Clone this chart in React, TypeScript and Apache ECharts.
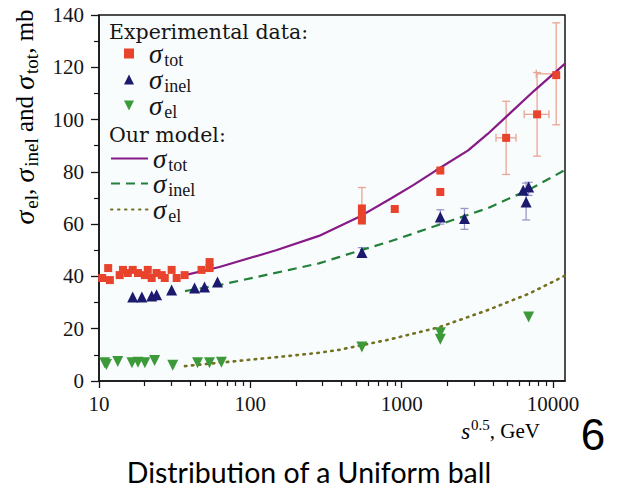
import React, { useEffect, useRef } from "react";
import * as echarts from "echarts";

// Experimental cross sections (sqrt(s) in GeV, sigma in mb)
const totExpX = [10.5, 11.5, 11.8, 13.7, 14.4, 15.5, 16.7, 18.1, 20.1, 21, 22.3, 24, 26, 27.2, 30.2, 32.6, 36.8, 47.6, 53.8, 53.8, 546, 546, 546, 900, 1800, 1800, 4900, 7850, 10500];
const totExpY = [39.4, 43.2, 38.6, 40.5, 42.5, 41.3, 42.5, 41.3, 40.5, 42.5, 39.4, 41.3, 40.5, 39.4, 42.5, 39.4, 40.5, 42.5, 43.2, 45.5, 66, 63.5, 61.5, 65.8, 80.5, 72.3, 93, 102, 117];

const totErrX = [546, 4900, 7850, 10500];
const totErrLow = [60, 79, 86, 98];
const totErrHigh = [74, 107, 118, 137];
const totErrXLow = [null, 4200, 6450, 7750];
const totErrXHigh = [null, 5700, 9400, 10900];

const inelExpX = [16.7, 19.2, 22.3, 24, 30.2, 42.8, 49.8, 60.7, 546, 1800, 2600, 6350, 6900, 6640];
const inelExpY = [32.1, 32.1, 32.5, 33, 34.8, 35.6, 36, 37.9, 49.2, 62.7, 62.2, 73, 74.2, 68.5];

const inelErrX = [546, 1800, 2600, 6640, 6900];
const inelErrLow = [47.5, 60, 58, 61.6, 71];
const inelErrHigh = [51, 65.5, 66, 75.7, 76];

const elExpX = [10.9, 11.2, 13.3, 16.5, 18.1, 20.1, 23.3, 30.7, 44.8, 53.7, 64.4, 546, 1800, 1800, 6900];
const elExpY = [7, 6.3, 7.5, 7, 7.2, 7, 7.8, 6, 7, 7, 7.2, 13, 18.5, 16, 24.5];

// Model curves
const totModelX = [37, 62.5, 148, 284, 521, 860, 1200, 1680, 2750, 3700, 5060, 7500, 12000];
const totModelY = [40.5, 43.6, 50, 55.5, 62.7, 70, 75, 80.5, 88.2, 94.5, 101.8, 111, 121.4];
const inelModelX = [37, 62.5, 181, 284, 385, 521, 820, 1750, 3730, 7000, 12000];
const inelModelY = [34.4, 36.7, 42.5, 45, 47.4, 49.8, 53.2, 59.7, 66.2, 73.3, 80.7];
const elModelX = [37, 181, 284, 385, 820, 1750, 3730, 7000, 12000];
const elModelY = [5.7, 9.6, 10.8, 11.9, 15.8, 20.5, 27.2, 33.5, 40.3];

// Axis ticks
const xMajorTicks = [10, 100, 1000, 10000];
const xMinorTicks = [20, 30, 40, 50, 60, 70, 80, 90, 200, 300, 400, 500, 600, 700, 800, 900, 2000, 3000, 4000, 5000, 6000, 7000, 8000, 9000];

// Legend rows: series name, label, vertical centre of the row
const dataRows = [
  { name: "tot data", label: "{g| }{s|σ}{b|tot}", y: 54 },
  { name: "inel data", label: "{g| }{s|σ}{b|inel}", y: 80 },
  { name: "el data", label: "{g| }{s|σ}{b|el}", y: 106 },
];
const modelRows = [
  { name: "tot model", label: "{s|σ}{b|tot}", y: 159 },
  { name: "inel model", label: "{s|σ}{b|inel}", y: 184 },
  { name: "el model", label: "{s|σ}{b|el}", y: 210 },
];

const SERIF = "'Liberation Serif', 'DejaVu Serif', serif";
const SERIF_WIDE = "'DejaVu Serif', 'Liberation Serif', serif";
const INK = "#151515";

// downward-pointing triangle marker
const DOWN_TRIANGLE = "path://M0,0L10,0L5,10Z";

const zip = (xs: number[], ys: number[]) => xs.map((x, i) => [x, ys[i]]);

const sigmaRich = {
  g: { width: 10, fontSize: 10, lineHeight: 10 },
  s: { fontFamily: SERIF, fontStyle: "italic", fontSize: 27, lineHeight: 22, color: INK },
  b: { fontFamily: SERIF, fontSize: 18, lineHeight: 10, padding: [13, 0, 0, 2], color: INK },
  t: { fontFamily: SERIF, fontSize: 23, lineHeight: 22, color: INK },
};

const axisTitleRich = {
  s: { fontFamily: SERIF, fontStyle: "italic", fontSize: 28, lineHeight: 22, color: INK },
  b: { fontFamily: SERIF, fontSize: 19, lineHeight: 10, padding: [14, 0, 0, 2], color: INK },
  t: { fontFamily: SERIF, fontSize: 25, lineHeight: 22, color: INK },
};

const LEGEND_HALF = 16;

function errorBarRenderer(color: string) {
  return (params: any, api: any) => {
    const x = api.value(0);
    const lo = api.value(1);
    const hi = api.value(2);
    const xl = api.value(3);
    const xh = api.value(4);
    const pLo = api.coord([x, lo]);
    const pHi = api.coord([x, hi]);
    const cap = 4;
    const style = { stroke: color, lineWidth: 1.3, fill: "none" };
    const children: any[] = [
      { type: "line", shape: { x1: pLo[0], y1: pLo[1], x2: pHi[0], y2: pHi[1] }, style },
      { type: "line", shape: { x1: pLo[0] - cap, y1: pLo[1], x2: pLo[0] + cap, y2: pLo[1] }, style },
      { type: "line", shape: { x1: pHi[0] - cap, y1: pHi[1], x2: pHi[0] + cap, y2: pHi[1] }, style },
    ];
    if (!isNaN(xl) && !isNaN(xh) && xl > 0 && xh > 0) {
      const y = (lo + hi) / 2;
      const pL = api.coord([xl, y]);
      const pR = api.coord([xh, y]);
      children.push(
        { type: "line", shape: { x1: pL[0], y1: pL[1], x2: pR[0], y2: pR[1] }, style },
        { type: "line", shape: { x1: pL[0], y1: pL[1] - cap, x2: pL[0], y2: pL[1] + cap }, style },
        { type: "line", shape: { x1: pR[0], y1: pR[1] - cap, x2: pR[0], y2: pR[1] + cap }, style }
      );
    }
    return { type: "group", children };
  };
}

export default function App() {
  const ref = useRef<HTMLDivElement>(null);

  useEffect(() => {
    if (!ref.current) return;
    const chart = echarts.init(ref.current, undefined, { renderer: "svg" });

    const xAxisBase = {
      type: "log" as const,
      logBase: 10,
      min: 10,
      max: 12000,
      gridIndex: 0,
      position: "bottom" as const,
      splitLine: { show: false },
      minorSplitLine: { show: false },
    };

    const totErrData = totErrX.map((x, i) => [x, totErrLow[i], totErrHigh[i], totErrXLow[i] ?? "-", totErrXHigh[i] ?? "-"]);
    const inelErrData = inelErrX.map((x, i) => [x, inelErrLow[i], inelErrHigh[i], "-", "-"]);

    const legends = [
      ...dataRows.map((r) => ({
        orient: "vertical",
        left: 124,
        top: r.y - LEGEND_HALF,
        padding: 0,
        itemWidth: 10,
        itemHeight: 10,
        data: [r.name],
        formatter: () => r.label,
        textStyle: { rich: sigmaRich },
      })),
      ...modelRows.map((r) => ({
        orient: "vertical",
        left: 110,
        top: r.y - LEGEND_HALF,
        padding: 0,
        itemWidth: 37,
        itemHeight: 10,
        itemStyle: { color: "rgba(0,0,0,0)", borderWidth: 0, opacity: 0 },
        data: [r.name],
        formatter: () => r.label,
        textStyle: { rich: sigmaRich },
      })),
    ];

    chart.setOption({
      animation: false,
      backgroundColor: "#ffffff",
      grid: {
        left: 99,
        top: 15,
        right: 52,
        bottom: 109,
        show: true,
        backgroundColor: "#f9fcfc",
        borderColor: INK,
        borderWidth: 1.5,
        outerBoundsMode: "none",
      },
      xAxis: [
        {
          ...xAxisBase,
          axisLine: { show: true, lineStyle: { color: INK, width: 1.5 } },
          axisTick: { show: true, length: 7, customValues: xMajorTicks, lineStyle: { color: INK, width: 1.3 } },
          axisLabel: {
            show: true,
            customValues: xMajorTicks,
            margin: 12,
            color: INK,
            fontFamily: SERIF,
            fontSize: 21,
            formatter: (v: number) => String(Math.round(v)),
          },
        },
        {
          ...xAxisBase,
          axisLine: { show: false },
          axisTick: { show: true, length: 5, customValues: xMinorTicks, lineStyle: { color: INK, width: 1.2 } },
          axisLabel: { show: false },
        },
      ],
      yAxis: {
        type: "value",
        min: 0,
        max: 140,
        interval: 20,
        splitLine: { show: false },
        axisLine: { show: true, lineStyle: { color: INK, width: 1.5 } },
        axisTick: { show: true, length: 8, lineStyle: { color: INK, width: 1.3 } },
        minorTick: { show: true, splitNumber: 2, length: 5, lineStyle: { color: INK, width: 1.2 } },
        axisLabel: { margin: 15, color: INK, fontFamily: SERIF, fontSize: 21 },
      },
      legend: legends,
      graphic: [
        {
          type: "text",
          left: 109,
          top: 21,
          style: { text: "Experimental data:", fontFamily: SERIF_WIDE, fontSize: 20.5, fill: INK },
        },
        {
          type: "text",
          left: 109,
          top: 124,
          style: { text: "Our model:", fontFamily: SERIF_WIDE, fontSize: 20.5, fill: INK },
        },
        {
          type: "text",
          x: 24,
          y: 117,
          rotation: Math.PI / 2,
          style: {
            text: "{s|σ}{b|el}{t|, }{s|σ}{b|inel}{t| and }{s|σ}{b|tot}{t|, mb}",
            align: "center",
            verticalAlign: "middle",
            rich: axisTitleRich,
          },
        },
        {
          type: "text",
          x: 540,
          y: 431,
          style: {
            text: "{s|s}{p|0.5}{t|, GeV}",
            align: "right",
            verticalAlign: "middle",
            rich: {
              s: { fontFamily: SERIF, fontStyle: "italic", fontSize: 23, lineHeight: 22, color: INK },
              p: { fontFamily: SERIF, fontSize: 15, lineHeight: 10, padding: [0, 0, 13, 1], color: INK },
              t: { fontFamily: SERIF, fontSize: 21, lineHeight: 22, color: INK },
            },
          },
        },
        {
          type: "text",
          x: 593,
          y: 434,
          style: { text: "6", align: "center", verticalAlign: "middle", fontFamily: "'Liberation Sans', Arial, sans-serif", fontSize: 44, fill: "#000" },
        },
        {
          type: "text",
          x: 309,
          y: 472,
          style: { text: "Distribution of a Uniform ball", align: "center", verticalAlign: "middle", fontFamily: "Lato, 'Open Sans', sans-serif", fontSize: 28.5, fill: "#000" },
        },
      ],
      series: [
        {
          name: "tot err",
          type: "custom",
          xAxisIndex: 0,
          renderItem: errorBarRenderer("#eaa493"),
          encode: { x: 0, y: [1, 2] },
          data: totErrData,
          z: 1,
        },
        {
          name: "inel err",
          type: "custom",
          xAxisIndex: 0,
          renderItem: errorBarRenderer("#9a98c8"),
          encode: { x: 0, y: [1, 2] },
          data: inelErrData,
          z: 1,
        },
        {
          name: "tot model",
          type: "line",
          xAxisIndex: 0,
          data: zip(totModelX, totModelY),
          showSymbol: false,
          symbol: "none",
          lineStyle: { color: "#861a86", width: 2.2 },
          itemStyle: { color: "#861a86" },
          z: 3,
        },
        {
          name: "inel model",
          type: "line",
          xAxisIndex: 0,
          data: zip(inelModelX, inelModelY),
          showSymbol: false,
          symbol: "none",
          lineStyle: { color: "#23803a", width: 2.2, type: [9, 6] },
          itemStyle: { color: "#23803a" },
          z: 3,
        },
        {
          name: "el model",
          type: "line",
          xAxisIndex: 0,
          data: zip(elModelX, elModelY),
          showSymbol: false,
          symbol: "none",
          lineStyle: { color: "#717121", width: 2.6, type: [1.5, 5.5], cap: "round" },
          itemStyle: { color: "#717121" },
          z: 3,
        },
        {
          name: "tot data",
          type: "scatter",
          xAxisIndex: 0,
          symbol: "rect",
          symbolSize: 8,
          itemStyle: { color: "#e8432c", opacity: 1 },
          data: zip(totExpX, totExpY),
          z: 4,
        },
        {
          name: "inel data",
          type: "scatter",
          xAxisIndex: 0,
          symbol: "triangle",
          symbolSize: 11,
          itemStyle: { color: "#1c1a6e", opacity: 1 },
          data: zip(inelExpX, inelExpY),
          z: 4,
        },
        {
          name: "el data",
          type: "scatter",
          xAxisIndex: 0,
          symbol: DOWN_TRIANGLE,
          symbolSize: 11,
          itemStyle: { color: "#3d9a3a", opacity: 1 },
          data: zip(elExpX, elExpY),
          z: 4,
        },
      ],
    });

    return () => chart.dispose();
  }, []);

  return <div ref={ref} style={{ width: 617, height: 490, position: "absolute", left: 0, top: 0 }} />;
}
